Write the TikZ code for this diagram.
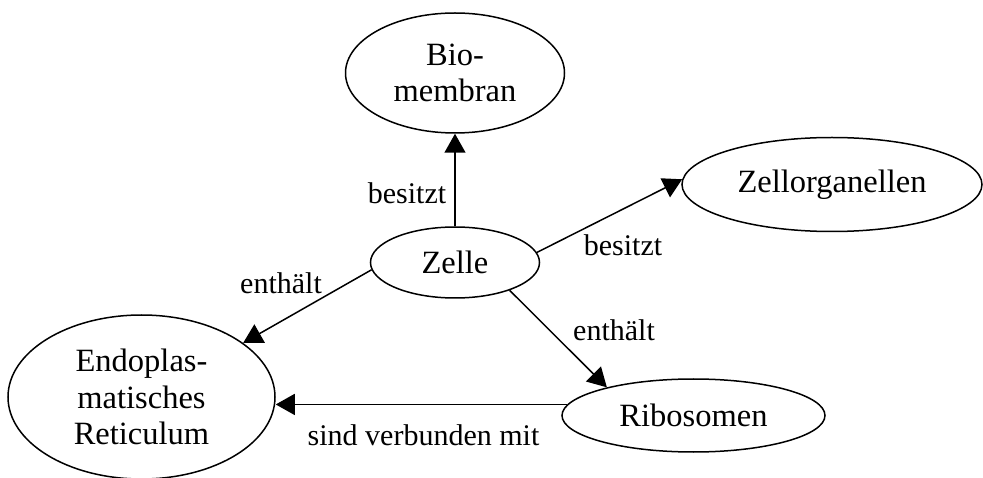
\documentclass[tikz,border=0pt]{standalone}
\usepackage{fontspec}
\setmainfont{Liberation Serif}
\usetikzlibrary{shapes.geometric,arrows.meta}
\begin{document}
\begin{tikzpicture}[
          x=1pt, y=-1pt,
          begriff/.style = {draw, ellipse, line width=1.5pt, inner sep=0pt, align=center,
                            font=\fontsize{32.5}{36.5}\selectfont},
          rel-lbl/.style = {inner sep=0pt, font=\fontsize{30}{34}\selectfont},
          >={Triangle[length=19pt,width=21pt]}
        ]
          \useasboundingbox (0,0) rectangle (983,478);

          \node[begriff,minimum width=219pt,minimum height=120pt] (bio) at (455,73) {Bio-\\membran};
          \node[begriff,minimum width=300pt,minimum height=94pt] (zorg) at (832,184.5) {Zellorganellen};
          \node[begriff,minimum width=169pt,minimum height=71pt] (zelle) at (455,262.5) {Zelle};
          \node[begriff,minimum width=267pt,minimum height=164pt] (er) at (141.5,397) {Endoplas-\\matisches\\Reticulum};
          \node[begriff,minimum width=263pt,minimum height=73pt] (ribo) at (693.5,415.5) {Ribosomen};

          \draw[->,line width=1.5pt] (zelle.north) -- (bio.south);
          \draw[->,line width=1.5pt] (zelle.7) -- (zorg.178);
          \draw[->,line width=1.5pt] (zelle.185) -- (er.28);
          \draw[->,line width=1.5pt] (zelle.-27) -- (ribo.162);
          \draw[->,line width=1.5pt] (ribo.175) -- (ribo.175 -| er.east);

          \node[rel-lbl] (l1) at (407,193) {besitzt};
          \node[rel-lbl] (l2) at (623,245) {besitzt};
          \node[rel-lbl] (l3) at (281,283) {enthält};
          \node[rel-lbl] (l4) at (614,330) {enthält};
          \node[rel-lbl] (l5) at (423.5,435) {sind verbunden mit};
        \end{tikzpicture}
\end{document}
